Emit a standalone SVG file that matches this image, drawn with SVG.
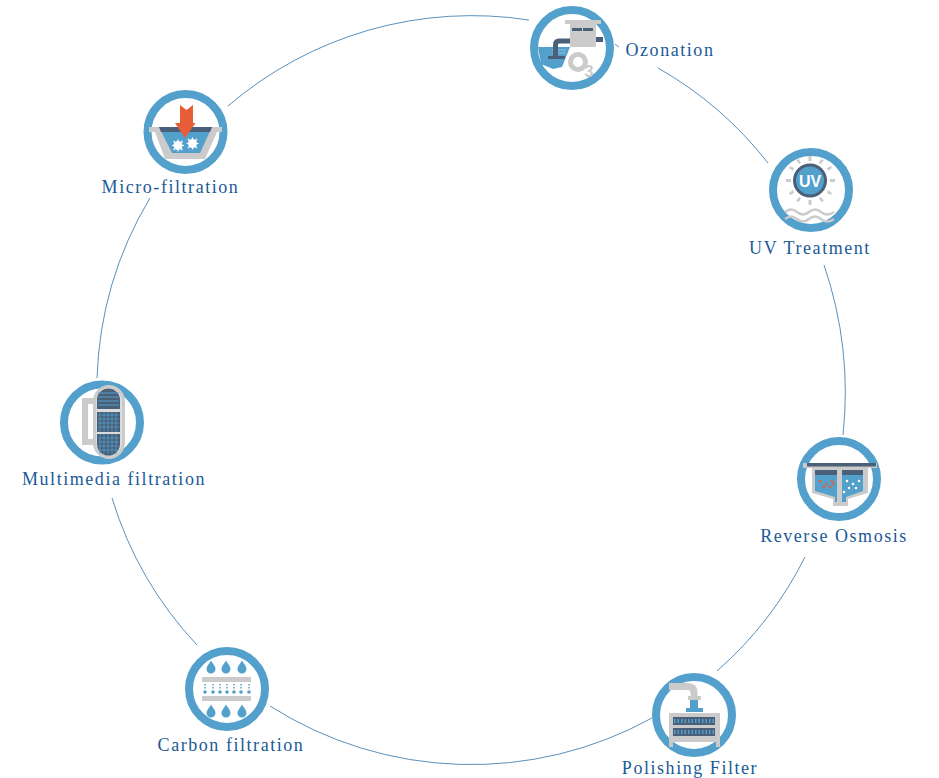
<svg xmlns="http://www.w3.org/2000/svg" width="939" height="778" viewBox="0 0 939 778">
<style>
text{font-family:"Liberation Serif","DejaVu Serif",serif;font-size:18px;letter-spacing:1.55px;fill:#1a5a96;text-anchor:middle}
.ring{fill:#fff;stroke:#52a0cb;stroke-width:8}
.arc{fill:none;stroke:#2f73ab;stroke-width:.8}
.g{fill:#cbcbcb}.d{fill:#4a5f78}.b{fill:#52a0cb}.w{fill:#fff}.o{fill:#e85d38}
.gs{fill:none;stroke:#cbcbcb}.ds{fill:none;stroke:#4a5f78}
</style>
<defs>
<path id="drop" d="M0-6.500C2-3 4.500-1 4.500 2A4.500 4.500 0 0 1-4.500 2C-4.500-1-2-3 0-6.500Z" class="b"/>
</defs>
<rect width="939" height="778" fill="#fff"/>
<g id="connectors">
<path class="arc" d="M658 68A374.500 374.500 0 0 1 768 163"/>
<path class="arc" d="M824 265A395 395 0 0 1 843 435"/>
<path class="arc" d="M805 557A374.500 374.500 0 0 1 717 671"/>
<path class="arc" d="M652 718A374.500 374.500 0 0 1 270 706"/>
<path class="arc" d="M197 645A374.500 374.500 0 0 1 112 498"/>
<path class="arc" d="M97 378A374.500 374.500 0 0 1 150 198"/>
<path class="arc" d="M228 106A374.500 374.500 0 0 1 529 20"/>
<path class="arc" d="M615 44L619 47"/>
</g>
<g id="ozonation">
<circle class="ring" cx="572" cy="48" r="38"/>
<rect class="g" x="565" y="20" width="36" height="4"/>
<rect class="g" x="570" y="24" width="26" height="23"/>
<rect class="d" x="572" y="28" width="10" height="3"/><rect class="d" x="583" y="28" width="10" height="3"/>
<rect class="d" x="596" y="37" width="7" height="5"/>
<path class="b" d="M538 47H570L562 67L553 69L541 64Z"/>
<path d="M552 50H566M552 53H566" stroke="#8fc0dd" stroke-width="1" fill="none"/>
<path d="M570 41H559Q555.500 41 555.500 45V58" fill="none" stroke="#4a5f78" stroke-width="5"/>
<rect class="d" x="548" y="56" width="17" height="3"/>
<circle cx="578" cy="62" r="7.500" fill="#fff" stroke="#cbcbcb" stroke-width="5"/>
<text x="589" y="76.500" style="font-family:'Liberation Sans',sans-serif;font-size:16px;font-weight:bold;letter-spacing:0;fill:#cbcbcb">3</text>
</g>
<text x="670" y="56">Ozonation</text>
<g id="uv-treatment">
<circle class="ring" cx="811" cy="190" r="38"/>
<g class="g">
<rect x="808.500" y="156" width="3" height="5"/><rect x="808.500" y="200" width="3" height="5"/>
<rect x="786" y="179" width="5" height="3"/><rect x="830" y="179" width="5" height="3"/>
<path d="M796 160l3-1 2 4-2 1ZM824 160l-3-1-2 4 2 1ZM796 201l3 1 2-4-2-1ZM824 201l-3 1-2-4 2-1ZM789 168l1-2 4 2-1 3ZM832 168l-1-2-4 2 1 3ZM789 193l1 2 4-2-1-3ZM832 193l-1 2-4-2 1-3Z"/>
</g>
<circle cx="810" cy="180.500" r="15.500" fill="#52a0cb" stroke="#4a5f78" stroke-width="3"/>
<text x="810" y="186.500" style="font-family:'Liberation Sans',sans-serif;font-size:16px;font-weight:bold;letter-spacing:0;fill:#fff">UV</text>
<path class="gs" stroke-width="2.500" d="M785 212q6-5 12 0t12 0 12 0 13 0M785 219q6-5 12 0t12 0 12 0 13 0"/>
</g>
<text x="810" y="253.500">UV Treatment</text>
<g id="reverse-osmosis">
<circle class="ring" cx="839" cy="479" r="38"/>
<path class="g" d="M812 468H868V493L848 499V506H833V499L812 493Z"/>
<rect class="g" x="803" y="463" width="74" height="5"/>
<rect class="d" x="807" y="463" width="69" height="3.500"/>
<path class="b" d="M815 470H837V502H835V497L815 491Z"/>
<path class="b" d="M842 470H863V491L846 497V502H842Z"/>
<rect class="d" x="815" y="470" width="22" height="5"/><rect class="d" x="842" y="470" width="21" height="5"/>
<g class="o"><circle cx="820" cy="481" r="1.300"/><circle cx="826" cy="484" r="1.300"/><circle cx="832" cy="481" r="1.300"/><circle cx="824" cy="487" r="1.300"/><circle cx="830" cy="487" r="1.300"/><circle cx="833" cy="484" r="1.300"/></g>
<g class="w"><circle cx="847" cy="481" r="1.300"/><circle cx="853" cy="484" r="1.300"/><circle cx="859" cy="481" r="1.300"/><circle cx="849" cy="488" r="1.300"/><circle cx="856" cy="488" r="1.300"/><circle cx="844" cy="492" r="1.300"/></g>
</g>
<text x="834" y="541.500">Reverse Osmosis</text>
<g id="polishing-filter">
<circle class="ring" cx="694" cy="715" r="38"/>
<path d="M669 686.500H688Q694 686.500 694 693V698" fill="none" stroke="#cbcbcb" stroke-width="7"/>
<rect class="g" x="688" y="696" width="13" height="4"/>
<rect class="b" x="690" y="700" width="8" height="9"/>
<rect class="b" x="686" y="708" width="17" height="4"/>
<rect class="g" x="669" y="713" width="51" height="29"/>
<rect class="g" x="669" y="741" width="4" height="6"/><rect class="g" x="716" y="741" width="4" height="6"/>
<rect class="d" x="673" y="717" width="42" height="8"/><rect class="d" x="673" y="728" width="42" height="8"/>
<path d="M674 721H714M674 732H714" stroke="#52a0cb" stroke-width="4" stroke-dasharray="1.500 2" fill="none"/>
</g>
<text x="690" y="773.500">Polishing Filter</text>
<g id="carbon-filtration">
<circle class="ring" cx="227" cy="689" r="38"/>
<use href="#drop" x="211" y="667"/><use href="#drop" x="226" y="667"/><use href="#drop" x="242" y="667"/>
<rect class="g" x="202" y="677" width="49" height="5"/>
<rect class="g" x="202" y="696" width="49" height="5"/>
<path d="M205 684V690M213 684V690M220 684V690M227 684V690M234 684V690M241 684V690M249 684V690" stroke="#52a0cb" stroke-width="1.500" stroke-dasharray="1.500 1.500" fill="none"/>
<g class="b"><circle cx="205" cy="692" r="1.800"/><circle cx="213" cy="692" r="1.800"/><circle cx="220" cy="692" r="1.800"/><circle cx="227" cy="692" r="1.800"/><circle cx="234" cy="692" r="1.800"/><circle cx="241" cy="692" r="1.800"/><circle cx="249" cy="692" r="1.800"/></g>
<use href="#drop" x="211" y="711"/><use href="#drop" x="226" y="711"/><use href="#drop" x="242" y="711"/>
</g>
<text x="231" y="751">Carbon filtration</text>
<g id="multimedia-filtration">
<circle class="ring" cx="102" cy="422.500" r="38"/>
<path class="gs" stroke-width="6" d="M96 401H85V442H96"/>
<rect x="94.500" y="386.500" width="29" height="71" rx="14.500" fill="#dcdcdc" stroke="#cbcbcb" stroke-width="3"/>
<path class="d" d="M97 409V400A11.500 11.500 0 0 1 120 400V409Z"/>
<rect class="d" x="97" y="412" width="23" height="20"/>
<path class="d" d="M97 434H120V444A11.500 11.500 0 0 1 97 444Z"/>
<path d="M98 393h21M98 397h21M98 401h21M98 405h21" stroke="#52a0cb" stroke-width="1" fill="none"/>
<path d="M98 415h21M98 419h21M98 423h21M98 427h21M98 438h21M98 442h21M98 446h21M98 450h21M100 412v20M104 412v20M108 412v20M112 412v20M116 412v20M100 434v20M104 434v20M108 434v20M112 434v20M116 434v20" stroke="#52a0cb" stroke-width=".8" fill="none"/>
</g>
<text x="114" y="484.500">Multimedia filtration</text>
<g id="micro-filtration">
<circle class="ring" cx="185.500" cy="132" r="38"/>
<path class="g" d="M149 127H222V132H217L205 159H165L155 132H149Z"/>
<path class="b" d="M159 127H212L200 153H172Z"/>
<path class="d" d="M159 127H212L210 132H161Z"/>
<path class="o" d="M180 105L186.500 110L193 105V123H195.500L185 138L175 123H180Z"/>
<g class="w"><circle cx="178" cy="145.500" r="4.500"/><circle cx="192.500" cy="143.500" r="4.500"/></g>
<path d="M172 145.500h12M178 139.500v12M173.500 141l9 9M182.500 141l-9 9M186.500 143.500h12M192.500 137.500v12M188 139l9 9M197 139l-9 9" stroke="#fff" stroke-width="1.200" fill="none"/>
</g>
<text x="170.500" y="192.500">Micro-filtration</text>
</svg>
